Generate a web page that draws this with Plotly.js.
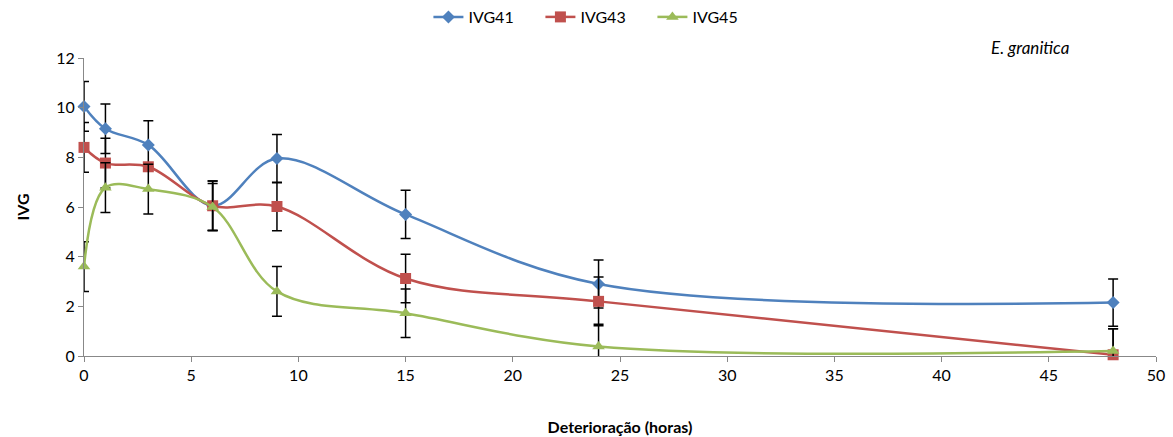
<!DOCTYPE html>
<html>
<head>
<meta charset="utf-8">
<script src="https://cdn.plot.ly/plotly-3.0.1.min.js"></script>
<style>html,body{margin:0;padding:0;background:#fff;}#chart{width:1173px;height:437px;}</style>
</head>
<body>
<div id="chart"></div>
<script>
const hours = [0, 1, 3, 6, 9, 15, 24, 48];
const ivg41 = [10.05, 9.15, 8.5, 6.05, 7.95, 5.7, 2.9, 2.15];
const ivg43 = [8.4, 7.77, 7.62, 6.05, 6.02, 3.12, 2.2, 0.05];
const ivg45 = [3.6, 6.78, 6.72, 6.0, 2.6, 1.72, 0.38, 0.2];
const err41 = [1.0, 1.0, 0.97, 1.0, 0.97, 0.97, 0.97, 0.95];
const err43 = [1.0, 1.0, 0.0, 1.0, 0.98, 0.98, 0.98, 1.05];
const err45 = [1.0, 1.0, 1.0, 0.95, 1.0, 0.98, 0.9, 0.9];
const seriesNames = ['IVG41', 'IVG43', 'IVG45'];

const colors = ['#4F81BD', '#C0504D', '#9BBB59'];
const symbols = ['diamond', 'square', 'triangle-up'];
const sizes = [10, 11, 11];
const ys = [ivg41, ivg43, ivg45];
const errs = [err41, err43, err45];

const font = 'Lato, "Liberation Sans", sans-serif';

const traces = ys.map((y, i) => ({
  x: hours, y: y, name: seriesNames[i], type: 'scatter', mode: 'lines+markers',
  cliponaxis: false,
  line: {color: colors[i], width: 2.5, shape: 'spline', smoothing: 1},
  marker: {color: colors[i], symbol: symbols[i], size: sizes[i]},
  error_y: {type: 'data', array: errs[i], visible: true, color: '#000', thickness: 1.5, width: 5}
}));

const layout = {
  width: 1173, height: 437,
  margin: {l: 84, r: 17, t: 58, b: 81, autoexpand: false},
  paper_bgcolor: '#fff', plot_bgcolor: '#fff',
  font: {family: font, size: 16, color: '#000'},
  showlegend: true,
  legend: {orientation: 'h', x: 0.478, xanchor: 'center', yref: 'container', y: 1 - 17/437, yanchor: 'middle',
           entrywidth: 67, entrywidthmode: 'pixels', font: {family: font, size: 16}},
  xaxis: {
    range: [0, 50], tickmode: 'linear', tick0: 0, dtick: 5,
    showgrid: false, zeroline: false, showline: true, linecolor: '#888', linewidth: 1,
    ticks: 'outside', ticklen: 5, tickcolor: '#888', tickfont: {size: 16},
    title: {text: '<b>Deterioração (horas)</b>', font: {family: font, size: 16}, standoff: 38}
  },
  yaxis: {
    range: [0, 12], tickmode: 'linear', tick0: 0, dtick: 2,
    showgrid: false, zeroline: false, showline: true, linecolor: '#888', linewidth: 1,
    ticks: 'outside', ticklen: 5, tickcolor: '#888', tickfont: {size: 16},
    title: {text: '<b>IVG</b>', font: {family: font, size: 16}, standoff: 22}
  },
  annotations: [{
    text: '<i>E. granitica</i>', xref: 'paper', yref: 'paper', x: 0.882, y: 1.034,
    xanchor: 'center', yanchor: 'middle', showarrow: false, font: {family: font, size: 17}
  }]
};

Plotly.newPlot('chart', traces, layout, {displayModeBar: false, staticPlot: true});
</script>
</body>
</html>
